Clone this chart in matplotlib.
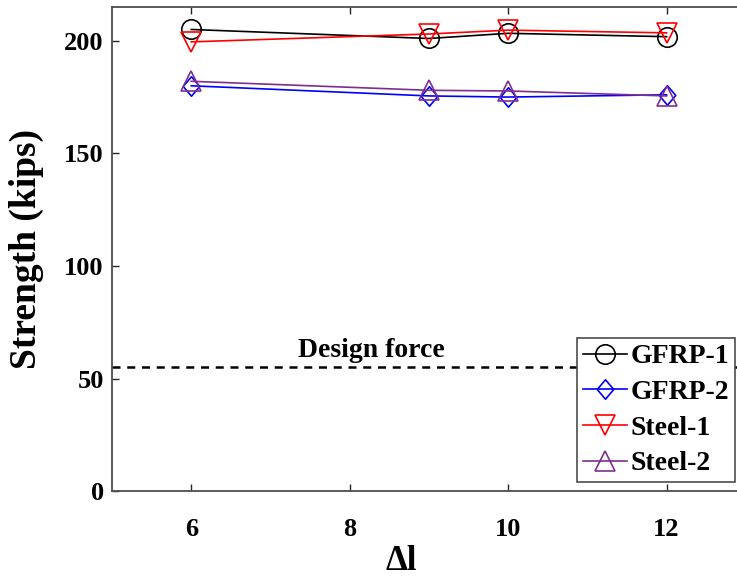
"""Strength vs. delta-l for the GFRP and steel specimens, with the design force line."""

import matplotlib

matplotlib.use("Agg")
import matplotlib.pyplot as plt
from matplotlib.path import Path

plt.rcParams["font.family"] = ["Liberation Serif", "DejaVu Serif"]
plt.rcParams["font.weight"] = "bold"

delta_l = [6, 9, 10, 12]
gfrp_1 = [205.0, 201.0, 203.3, 201.8]
gfrp_2 = [180.0, 175.5, 175.0, 176.0]
steel_1 = [199.5, 203.0, 204.7, 203.5]
steel_2 = [182.0, 178.0, 177.7, 175.5]
design_force = 55

# slightly narrow diamond, like MATLAB's 'd'
diamond = Path([(0, 1), (0.85, 0), (0, -1), (-0.85, 0), (0, 1)],
               [Path.MOVETO, Path.LINETO, Path.LINETO, Path.LINETO, Path.CLOSEPOLY])

SERIES = [
    ("GFRP-1", gfrp_1, "black", "o", 14),
    ("GFRP-2", gfrp_2, "blue", diamond, 14),
    ("Steel-1", steel_1, "red", "v", 14.5),
    ("Steel-2", steel_2, "#7E2F8E", "^", 14.5),
]

fig = plt.figure(figsize=(7.37, 5.79), dpi=100)
ax = fig.add_axes([0.152, 0.1515, 0.86, 0.8365])

ax.axhline(design_force, color="black", linestyle=(0, (3.2, 2.7)), linewidth=1.8, zorder=1)
ax.text(8.27, 59.6, "Design force", ha="center", va="baseline",
        fontsize=20, fontweight="bold")

for name, vals, color, marker, ms in SERIES:
    ax.plot(delta_l, vals, color=color, marker=marker, markersize=ms,
            markerfacecolor="none", markeredgewidth=1.2, linewidth=1.2,
            label=name, zorder=3)

ax.set_xlim(5, 13)
ax.set_ylim(0, 215)
ax.set_xticks([6, 8, 10, 12])
ax.set_yticks([0, 50, 100, 150, 200])
ax.tick_params(direction="in", length=5, width=1, labelsize=19, colors="#262626",
               top=True, right=True)
ax.tick_params(axis="x", pad=19)
ax.tick_params(axis="y", pad=6)
for lbl in ax.get_xticklabels() + ax.get_yticklabels():
    lbl.set_color("black")
    lbl.set_fontweight("bold")
for sp in ax.spines.values():
    sp.set_color("#4d4d4d")
    sp.set_linewidth(1.3)

ax.set_xlabel("Δl", fontsize=25, fontweight="bold")
ax.xaxis.set_label_coords(0.456, -0.11)
ax.set_ylabel("Strength (kips)", fontsize=27, fontweight="bold")
ax.yaxis.set_label_coords(-0.108, 0.5)

leg = ax.legend(loc="lower right", bbox_to_anchor=(0.997, 0.1675),
                bbox_transform=fig.transFigure, borderaxespad=0,
                fontsize=20, handlelength=1.6, handletextpad=0.12,
                labelspacing=0.37, borderpad=0.2, fancybox=False,
                framealpha=1, edgecolor="#4d4d4d")
leg.get_frame().set_linewidth(1.2)
for t in leg.get_texts():
    t.set_fontweight("bold")

fig.savefig("out.png", dpi=100)
